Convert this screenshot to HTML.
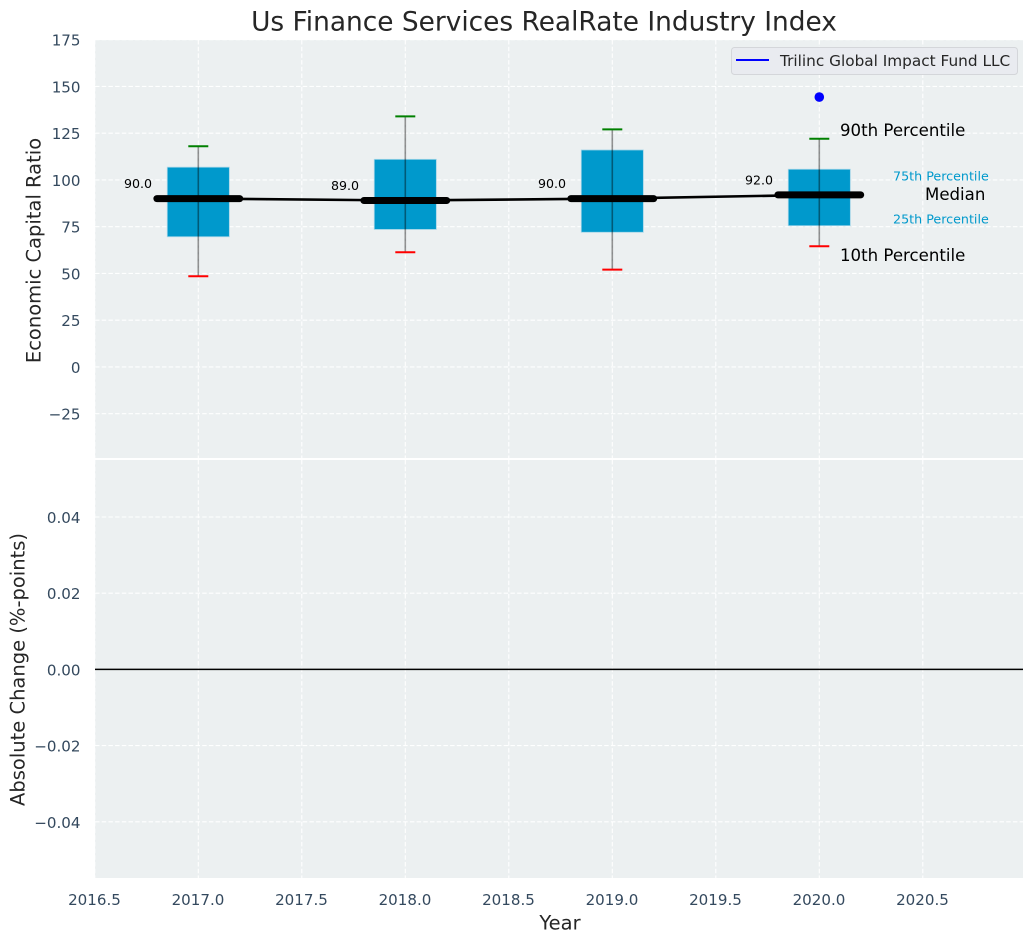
<!DOCTYPE html>
<html>
<head>
<meta charset="utf-8">
<title>Us Finance Services RealRate Industry Index</title>
<style>
html,body{margin:0;padding:0;background:#fff;}
svg{display:block;font-family:"DejaVu Sans","Liberation Sans",sans-serif;}
</style>
</head>
<body>
<svg id="chart" xmlns="http://www.w3.org/2000/svg" width="1034" height="942" viewBox="0 0 1034 942"></svg>
<script>
const years = [2017, 2018, 2019, 2020];
const medians = [90, 89, 90, 92];
const q1 = [69.6, 73.5, 72, 75.5];
const q3 = [106.8, 111, 116, 105.7];
const p10 = [48.5, 61.3, 52, 64.5];
const p90 = [118, 134, 127, 122];
const companyValue = [2020, 144.3];
const xTicks = [2016.5, 2017, 2017.5, 2018, 2018.5, 2019, 2019.5, 2020, 2020.5];
const topTicks = [175, 150, 125, 100, 75, 50, 25, 0, -25];
const bottomTicks = [0.04, 0.02, 0, -0.02, -0.04];

const NS = 'http://www.w3.org/2000/svg';
const svg = document.getElementById('chart');
const sx = v => 198.3 + (v - 2017) * 207;
const sy = v => 366.9 - v * 1.87;
const by = v => 669.4 - v * 3810;
const PANEL_L = 95, PANEL_R = 1023, TOP_T = 40, TOP_B = 458, BOT_T = 460, BOT_B = 878;

function mk(tag, props, parent) {
  const el = document.createElementNS(NS, tag);
  for (const k in props) el.setAttribute(k, props[k]);
  (parent || svg).appendChild(el);
  return el;
}
function fmtBottom(t) {
  return (t < 0 ? '\u2212' : '') + Math.abs(t).toFixed(2);
}
function fmtTop(t) {
  return (t < 0 ? '\u2212' : '') + Math.abs(t);
}

// panels
const topPanel = mk('rect', {x: PANEL_L, y: TOP_T, width: PANEL_R - PANEL_L, height: TOP_B - TOP_T, fill: '#ecf0f1'});


const bottomPanel = mk('rect', {x: PANEL_L, y: BOT_T, width: PANEL_R - PANEL_L, height: BOT_B - BOT_T, fill: '#ecf0f1'});



// gridlines
const gridStyle = {stroke: '#ffffff', 'stroke-width': 1.1, 'stroke-dasharray': '4.5 2.2', fill: 'none', opacity: 0.95};
xTicks.forEach(t => {
  const a = mk('line', Object.assign({x1: sx(t), x2: sx(t), y1: TOP_T, y2: TOP_B}, gridStyle));
  
  
  const b = mk('line', Object.assign({x1: sx(t), x2: sx(t), y1: BOT_T, y2: BOT_B}, gridStyle));
  
  
  const lab = mk('text', {x: sx(t) - 0.3, y: 900, 'text-anchor': 'middle', 'dominant-baseline': 'central', 'font-size': 15.1, fill: '#34495e'});
  lab.textContent = t.toFixed(1);
  
  
});
topTicks.forEach(t => {
  const g = mk('line', Object.assign({x1: PANEL_L, x2: PANEL_R, y1: sy(t), y2: sy(t)}, gridStyle));
  
  
  const lab = mk('text', {x: 80.5, y: sy(t) + 1, 'text-anchor': 'end', 'dominant-baseline': 'central', 'font-size': 15.1, fill: '#34495e'});
  lab.textContent = fmtTop(t);
  
  
});
bottomTicks.forEach(t => {
  const g = mk('line', Object.assign({x1: PANEL_L, x2: PANEL_R, y1: by(t), y2: by(t)}, gridStyle));
  
  
  const lab = mk('text', {x: 80.5, y: by(t) + 1, 'text-anchor': 'end', 'dominant-baseline': 'central', 'font-size': 15.1, fill: '#34495e'});
  lab.textContent = fmtBottom(t);
  
  
});

// zero line
const zero = mk('line', {x1: PANEL_L, x2: PANEL_R, y1: by(0), y2: by(0), stroke: '#000', 'stroke-width': 1.5});



// boxes
years.forEach((yr, i) => {
  const box = mk('rect', {x: sx(yr - 0.15), y: sy(q3[i]), width: 0.3 * 207, height: sy(q1[i]) - sy(q3[i]), fill: '#0099cc', stroke: '#a5d6e8', 'stroke-width': 0.8});
  
  
});

// median trend line
const trend = mk('polyline', {points: years.map((yr, i) => sx(yr) + ',' + sy(medians[i])).join(' '), fill: 'none', stroke: '#000', 'stroke-width': 2.6});



years.forEach((yr, i) => {
  const med = mk('line', {x1: sx(yr - 0.2), x2: sx(yr + 0.2), y1: sy(medians[i]), y2: sy(medians[i]), stroke: '#000', 'stroke-width': 7, 'stroke-linecap': 'round'});
  
  
  const whisk = mk('line', {x1: sx(yr), x2: sx(yr), y1: sy(p10[i]), y2: sy(p90[i]), stroke: '#000', 'stroke-opacity': 0.42, 'stroke-width': 1.6});
  
  
  const capHi = mk('line', {x1: sx(yr) - 10, x2: sx(yr) + 10, y1: sy(p90[i]), y2: sy(p90[i]), stroke: '#008000', 'stroke-width': 2});
  
  
  const capLo = mk('line', {x1: sx(yr) - 10, x2: sx(yr) + 10, y1: sy(p10[i]), y2: sy(p10[i]), stroke: '#ff0000', 'stroke-width': 2});
  
  
  const lab = mk('text', {x: sx(yr) - 60.3, y: sy(medians[i]) - 15, 'text-anchor': 'middle', 'dominant-baseline': 'central', 'font-size': 12.6, fill: '#000'});
  lab.textContent = medians[i].toFixed(1);
  
  
});

// company point
const dot = mk('circle', {cx: sx(companyValue[0]), cy: sy(companyValue[1]), r: 4.8, fill: '#0000ff'});


</script>
<script>
(function () {
  const s = document.getElementById('chart');
  s.insertAdjacentHTML('beforeend', `
  <text x="544" y="22" text-anchor="middle" dominant-baseline="central" font-size="26.4" fill="#262626">Us Finance Services RealRate Industry Index</text>
  <text transform="translate(34 250.5) rotate(-90)" text-anchor="middle" dominant-baseline="central" font-size="19.5" fill="#262626">Economic Capital Ratio</text>
  <text transform="translate(18 669.5) rotate(-90)" text-anchor="middle" dominant-baseline="central" font-size="19.5" fill="#262626">Absolute Change (%-points)</text>
  <text x="560" y="923" text-anchor="middle" dominant-baseline="central" font-size="19.5" fill="#262626">Year</text>
  <g>
    <rect x="731.5" y="47.5" width="286" height="27" rx="3" fill="#e9ebf0" stroke="#d4d6da" stroke-width="1"/>
    <line x1="736" x2="769" y1="60" y2="60" stroke="#0000ff" stroke-width="2"/>
    <text x="780" y="61" dominant-baseline="central" font-size="15.3" fill="#262626">Trilinc Global Impact Fund LLC</text>
  </g>
  <text x="840" y="130.5" dominant-baseline="central" font-size="16.6" fill="#000">90th Percentile</text>
  <text x="840" y="255.5" dominant-baseline="central" font-size="16.6" fill="#000">10th Percentile</text>
  <text x="925" y="194.5" dominant-baseline="central" font-size="16.6" fill="#000">Median</text>
  <text x="893" y="176" dominant-baseline="central" font-size="12.7" fill="#0099cc">75th Percentile</text>
  <text x="893" y="219" dominant-baseline="central" font-size="12.7" fill="#0099cc">25th Percentile</text>
  `);
})();
</script>
</body>
</html>
